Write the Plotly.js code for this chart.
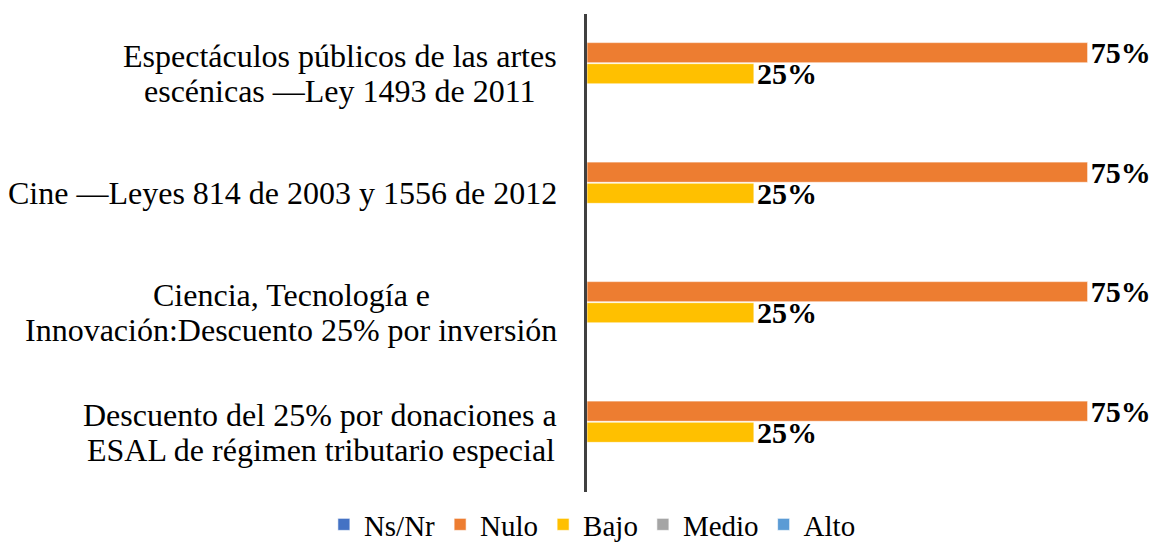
<!DOCTYPE html>
<html>
<head>
<meta charset="utf-8">
<script src="https://cdn.plot.ly/plotly-3.0.1.min.js"></script>
<style>html,body{margin:0;padding:0;background:#fff;}#chart{width:1157px;height:550px;}</style>
</head>
<body>
<div id="chart"></div>
<script>
const categories = [
  "Espectáculos públicos de las artes<br>escénicas —Ley 1493 de 2011",
  "Cine —Leyes 814 de 2003 y 1556 de 2012",
  "Ciencia, Tecnología e<br>Innovación:Descuento 25% por inversión",
  "Descuento del 25% por donaciones a<br>ESAL de régimen tributario especial"
];
const seriesNames = ["Ns/Nr", "Nulo", "Bajo", "Medio", "Alto"];
const nsnr  = [0, 0, 0, 0];
const nulo  = [0.75, 0.75, 0.75, 0.75];
const bajo  = [0.25, 0.25, 0.25, 0.25];
const medio = [0, 0, 0, 0];
const alto  = [0, 0, 0, 0];
const colors = ["#4472C4", "#ED7D31", "#FFC000", "#A5A5A5", "#5B9BD5"];
const seriesValues = [nsnr, nulo, bajo, medio, alto];

const serif = "'Liberation Serif', 'Times New Roman', serif";
const labelSize = 32;

const traces = seriesValues.map((vals, i) => ({
  type: "bar",
  orientation: "h",
  name: seriesNames[i],
  y: categories,
  x: vals,
  marker: {color: colors[i], line: {color: "rgba(255,255,255,0.6)", width: 1}},
  text: vals.map(v => v > 0 ? Math.round(v * 100) + "%" : ""),
  textposition: "outside",
  constraintext: "none",
  cliponaxis: false,
  textfont: {family: serif, size: 30, color: "#000", weight: "bold"},
  hoverinfo: "none"
}));

// Category labels: centred lines, tight (Excel-like) line spacing
const ctx = document.createElement("canvas").getContext("2d");
ctx.font = labelSize + "px " + serif;
const lineGap = 35;
const annotations = [];
categories.forEach(c => {
  const lines = c.split("<br>");
  const n = lines.length;
  const widths = lines.map(l => ctx.measureText(l).width);
  const maxW = Math.max.apply(null, widths);
  lines.forEach((ln, k) => {
    annotations.push({
      xref: "x", yref: "y", x: 0, y: c,
      xanchor: "right", yanchor: "middle",
      xshift: -28 - (maxW - widths[k]) / 2,
      yshift: ((n - 1) / 2 - k) * lineGap,
      text: ln, showarrow: false, align: "right",
      font: {family: serif, size: labelSize, color: "#000"}
    });
  });
});

const layout = {
  width: 1157, height: 550,
  margin: {l: 587, r: 36, t: 14, b: 58},
  paper_bgcolor: "#fff", plot_bgcolor: "#fff",
  barmode: "group",
  bargap: 0.12,
  bargroupgap: 0.04,
  font: {family: serif, size: 29, color: "#000"},
  xaxis: {range: [0, 0.8], showgrid: false, zeroline: false, showticklabels: false, showline: false, fixedrange: true},
  yaxis: {autorange: "reversed", showticklabels: false, showgrid: false, zeroline: false,
          showline: true, linecolor: "#404040", linewidth: 3, ticks: "", fixedrange: true},
  showlegend: true,
  legend: {orientation: "h", xref: "container", yref: "container", x: 0.512, xanchor: "center",
           y: 0, yanchor: "bottom", font: {family: serif, size: 29, color: "#000"},
           traceorder: "normal", itemwidth: 30},
  annotations: annotations
};

Plotly.newPlot("chart", traces, layout, {displayModeBar: false, staticPlot: true});
</script>
</body>
</html>
